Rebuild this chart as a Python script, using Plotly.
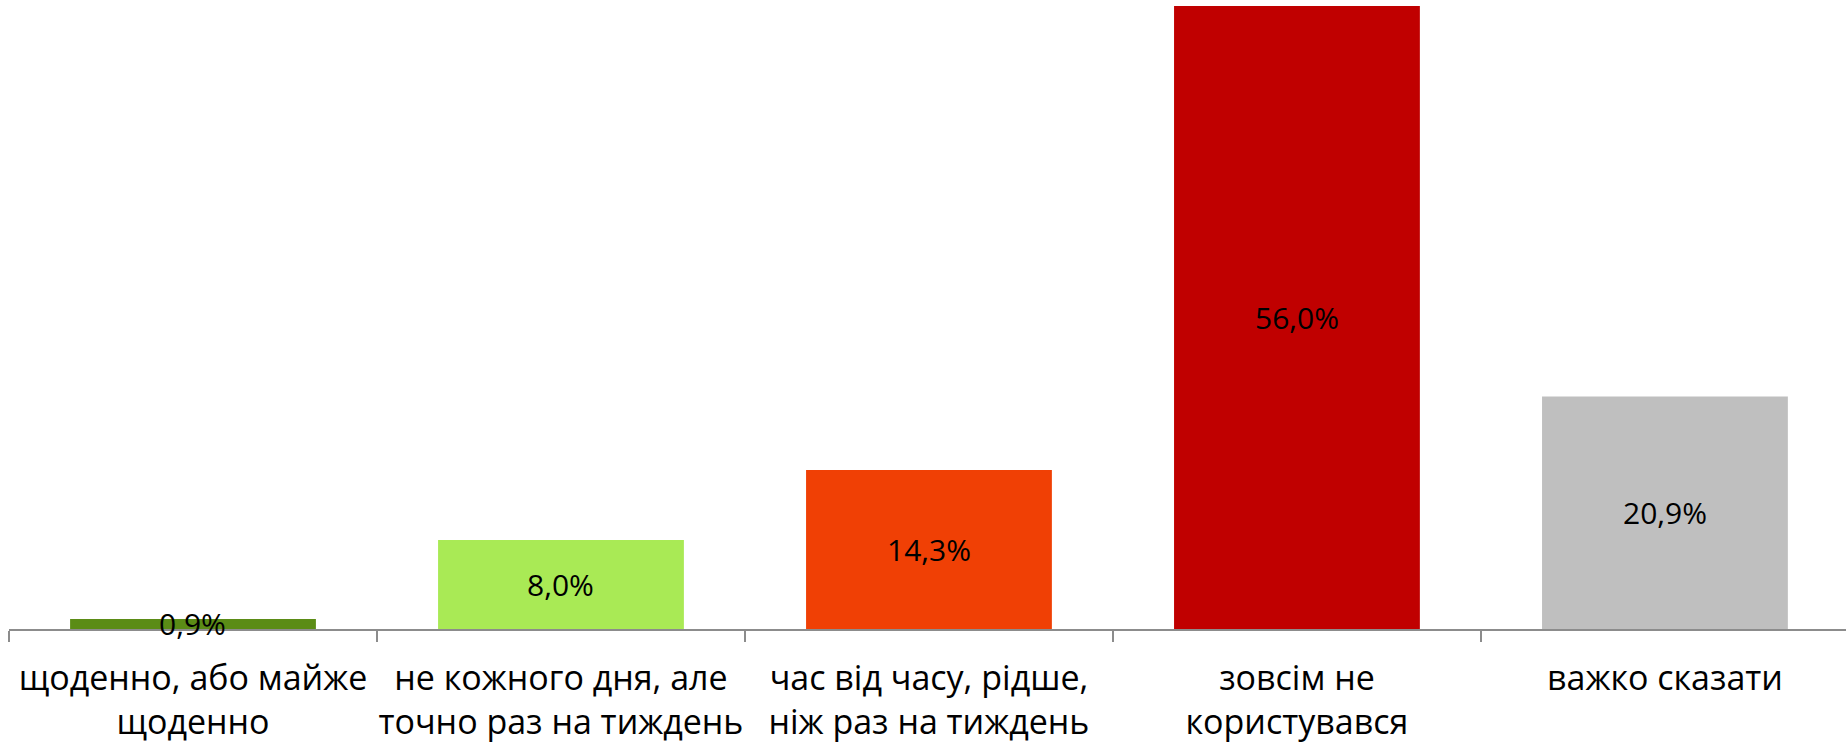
import plotly.graph_objects as go

categories = [
    "щоденно, або майже<br>щоденно",
    "не кожного дня, але<br>точно раз на тиждень",
    "час від часу, рідше,<br>ніж раз на тиждень",
    "зовсім не<br>користувався",
    "важко сказати",
]
values = [0.9, 8.0, 14.3, 56.0, 20.9]
labels = ["0,9%", "8,0%", "14,3%", "56,0%", "20,9%"]
colors = ["#5B8C16", "#A9EA55", "#F04005", "#C00000", "#BFBFBF"]

FONT = "Open Sans"

fig = go.Figure()
fig.add_trace(go.Bar(
    x=categories, y=values, marker=dict(color=colors, line=dict(width=0)),
    hoverinfo="skip", showlegend=False,
))
for c, v, t in zip(categories, values, labels):
    fig.add_annotation(x=c, y=v / 2, text=t, showarrow=False,
                       font=dict(family=FONT, size=30, color="#000000"),
                       xanchor="center", yanchor="middle")

fig.update_layout(
    width=1846, height=743,
    margin=dict(l=9, r=0, t=6, b=114),
    paper_bgcolor="white", plot_bgcolor="white",
    bargap=0.332,
    xaxis=dict(
        type="category", range=[-0.5, 4.492], tickson="boundaries",
        automargin=False, tickangle=0,
        ticks="outside", ticklen=11, tickwidth=2, tickcolor="#8C8C8C",
        showline=True, linecolor="#8C8C8C", linewidth=2,
        showgrid=False, zeroline=False,
        ticklabelstandoff=18,
        tickfont=dict(family=FONT, size=34, color="#000000"),
    ),
    yaxis=dict(range=[0, 56], visible=False, showgrid=False, zeroline=False,
               automargin=False),
)

fig.write_html(
    "out.html",
    config={"displayModeBar": False},
    post_script="document.body.style.margin='0';document.body.style.overflow='hidden';",
)
